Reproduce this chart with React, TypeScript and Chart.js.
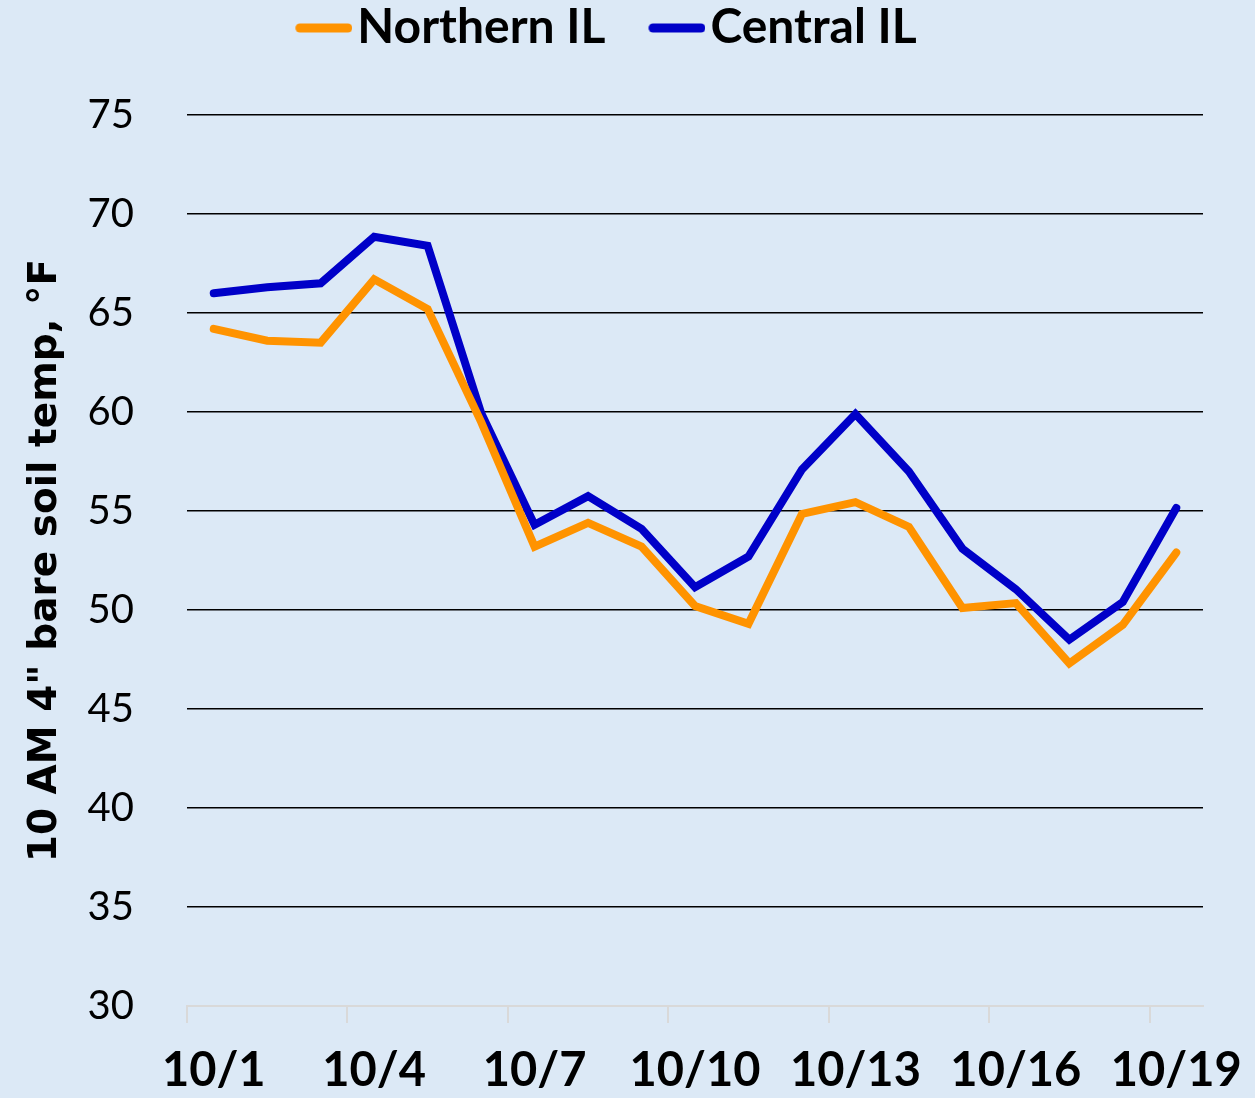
import React, { useEffect, useRef } from "react";
import { Chart, registerables } from "chart.js";

Chart.register(...registerables);

const categories = [
  "10/1", "10/2", "10/3", "10/4", "10/5", "10/6", "10/7", "10/8", "10/9", "10/10",
  "10/11", "10/12", "10/13", "10/14", "10/15", "10/16", "10/17", "10/18", "10/19",
];
const northernIL = [
  64.2, 63.6, 63.5, 66.7, 65.2, 59.5, 53.2, 54.4, 53.2, 50.2,
  49.3, 54.85, 55.45, 54.2, 50.1, 50.35, 47.3, 49.25, 52.9,
];
const centralIL = [
  66.0, 66.3, 66.5, 68.85, 68.4, 59.95, 54.3, 55.75, 54.1, 51.15,
  52.7, 57.1, 59.9, 57.0, 53.1, 51.05, 48.5, 50.4, 55.15,
];
const seriesNames = ["Northern IL", "Central IL"];
const seriesColors = ["#ff9300", "#0000c8"];
const yTitle = '10 AM 4" bare soil temp, \u00b0F';
const yMin = 30;
const yMax = 75;
const yStep = 5;

// legend sample: a short thick line placed close to its label
function legendLine(color: string): HTMLCanvasElement {
  const c = document.createElement("canvas");
  c.width = 85;
  c.height = 12;
  const g = c.getContext("2d");
  if (g) {
    g.strokeStyle = color;
    g.lineWidth = 9;
    g.lineCap = "round";
    g.beginPath();
    g.moveTo(28 + 4.5, 6);
    g.lineTo(85 - 4.5, 6);
    g.stroke();
  }
  return c;
}

export default function App() {
  const ref = useRef<HTMLCanvasElement | null>(null);

  useEffect(() => {
    if (!ref.current) return;
    const chart = new Chart(ref.current, {
      type: "line",
      data: {
        labels: categories,
        datasets: [
          {
            label: seriesNames[0],
            data: northernIL,
            borderColor: seriesColors[0],
            backgroundColor: seriesColors[0],
            borderWidth: 8,
            borderCapStyle: "round",
            borderJoinStyle: "miter",
            pointRadius: 0,
            pointStyle: legendLine(seriesColors[0]) as any,
            tension: 0,
          },
          {
            label: seriesNames[1],
            data: centralIL,
            borderColor: seriesColors[1],
            backgroundColor: seriesColors[1],
            borderWidth: 8,
            borderCapStyle: "round",
            borderJoinStyle: "miter",
            pointRadius: 0,
            pointStyle: legendLine(seriesColors[1]) as any,
            tension: 0,
          },
        ],
      },
      options: {
        animation: false,
        responsive: true,
        maintainAspectRatio: false,
        layout: { padding: { top: -30, right: 52, left: 0, bottom: 0 } },
        plugins: {
          tooltip: { enabled: false },
          legend: {
            position: "top",
            align: "center",
            labels: {
              usePointStyle: true,
              pointStyleWidth: 47,
              padding: 34,
              color: "#000",
              font: { family: "Lato", weight: "bold", size: 48 },
            },
          },
          subtitle: {
            display: true,
            text: "",
            position: "top",
            weight: 500,
            font: { size: 10, lineHeight: 1 },
            padding: { top: 0, bottom: 43 },
          },
        },
        scales: {
          x: {
            type: "category",
            offset: true,
            border: { display: true, color: "#d9d9d9", width: 2 },
            grid: {
              offset: true,
              drawOnChartArea: false,
              drawTicks: true,
              tickLength: 17,
              lineWidth: 2,
              color: (ctx: any) => (ctx.index % 3 === 0 ? "#d9d9d9" : "rgba(0,0,0,0)"),
            },
            ticks: {
              autoSkip: false,
              maxRotation: 0,
              minRotation: 0,
              padding: 20,
              color: "#000",
              font: { family: "Lato", weight: "bold", size: 47 },
              callback: (_v: any, i: number) => (i % 3 === 0 ? categories[i] : ""),
            },
            afterFit: (scale: any) => {
              scale.height = 92;
              scale.paddingLeft = 0;
              scale.paddingRight = 0;
            },
          },
          y: {
            min: yMin,
            max: yMax,
            border: { display: false },
            grid: {
              drawTicks: false,
              lineWidth: 1.5,
              color: (ctx: any) => (ctx.tick && ctx.tick.value === yMin ? "rgba(0,0,0,0)" : "#000"),
            },
            ticks: {
              stepSize: yStep,
              padding: 53,
              color: "#000",
              font: { family: "Lato", size: 40 },
            },
            title: {
              display: true,
              text: yTitle,
              color: "#000",
              padding: { top: 22, bottom: 0 },
              font: { family: "DejaVu Sans", weight: "bold", size: 39 },
            },
            afterFit: (scale: any) => {
              scale.width = 187;
              scale.paddingTop = 0;
              scale.paddingBottom = 0;
            },
          },
        },
      },
    });
    return () => chart.destroy();
  }, []);

  return (
    <div
      style={{
        position: "fixed",
        left: 0,
        top: 0,
        width: 1255,
        height: 1098,
        background: "#dce9f6",
      }}
    >
      <canvas ref={ref} />
    </div>
  );
}
